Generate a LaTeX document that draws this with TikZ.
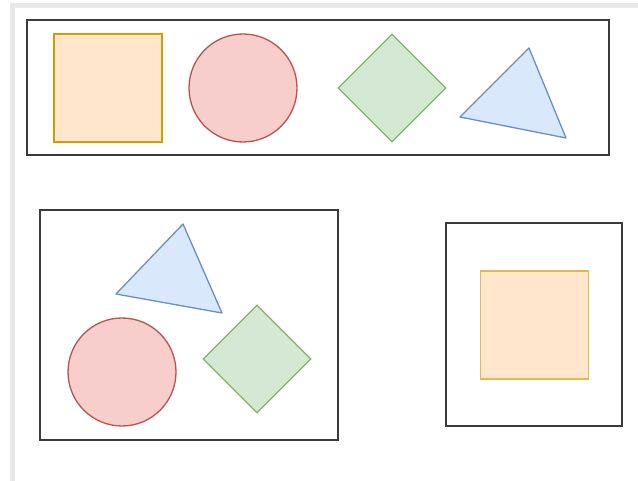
\documentclass[tikz,border=0pt]{standalone}
\usepackage{tikz}
\usetikzlibrary{shapes.geometric}
\definecolor{orangefill}{HTML}{FFE6CC}
\definecolor{orangeline}{HTML}{D79B00}
\definecolor{yellowline}{HTML}{E3B84E}
\definecolor{redfill}{HTML}{F8CECC}
\definecolor{redline}{HTML}{B85450}
\definecolor{greenfill}{HTML}{D5E8D4}
\definecolor{greenline}{HTML}{82B366}
\definecolor{bluefill}{HTML}{DAE8FC}
\definecolor{blueline}{HTML}{6C8EBF}
\definecolor{frameline}{HTML}{3A3A3A}
\tikzset{
    group box/.style={
        draw=frameline,
        line width=1.2pt
    },
    sq shape/.style={
        draw=orangeline,
        fill=orangefill,
        line width=1.3pt,
        minimum width=108pt,
        minimum height=108pt,
        inner sep=0pt
    },
    circ shape/.style={
        circle,
        draw=redline,
        fill=redfill,
        line width=1.3pt,
        minimum size=108pt,
        inner sep=0pt
    },
    dia shape/.style={
        diamond,
        draw=greenline,
        fill=greenfill,
        line width=1.3pt,
        minimum width=108pt,
        minimum height=108pt,
        inner sep=0pt
    },
    tri shape/.style={
        draw=blueline,
        fill=bluefill,
        line width=1.3pt,
        line join=round
    }
}

\begin{document}
\begin{tikzpicture}[x=1pt,y=-1pt]
    \useasboundingbox (0,0) rectangle (638,481);
    % page edge
    \draw[gray!18, line width=5pt] (12.5,481) -- (12.5,5.5) -- (638,5.5);

    % top group
    \draw[group box] (27,20) rectangle (609,155);
    \node[sq shape] (sqa) at (108,88) {};
    \node[circ shape] (cira) at (243,88) {};
    \node[dia shape] (diaa) at (392,88) {};
    \coordinate (tria1) at (529,48);
    \coordinate (tria2) at (566,138);
    \coordinate (tria3) at (460,117);
    \draw[tri shape] (tria1) -- (tria2) -- (tria3) -- cycle;

    % bottom left group
    \draw[group box] (40,210) rectangle (338,440);
    \coordinate (trib1) at (183,224);
    \coordinate (trib2) at (222,313);
    \coordinate (trib3) at (116,294);
    \draw[tri shape] (trib1) -- (trib2) -- (trib3) -- cycle;
    \node[circ shape] (cirb) at (122,372) {};
    \node[dia shape] (diab) at (257,359) {};

    % bottom right group
    \draw[group box] (446,223) rectangle (622,426);
    \node[sq shape, draw=yellowline] (sqb) at (534.5,325) {};
\end{tikzpicture}
\end{document}
